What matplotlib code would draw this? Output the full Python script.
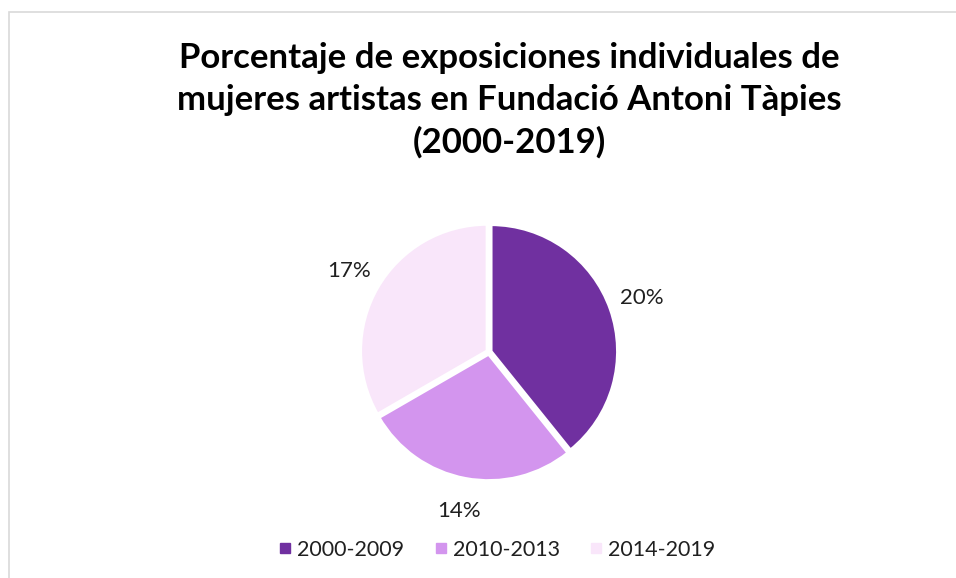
import matplotlib
matplotlib.use("Agg")
import matplotlib.pyplot as plt
from matplotlib.patches import Rectangle
from matplotlib.lines import Line2D
import numpy as np

plt.rcParams['font.family'] = ['Lato', 'DejaVu Sans']

title = "Porcentaje de exposiciones individuales de\nmujeres artistas en Fundació Antoni Tàpies\n(2000-2019)"
categories = ["2000-2009", "2010-2013", "2014-2019"]
values = [20, 14, 17]
colors = ["#7030A0", "#D395EE", "#F9E6FA"]

W, H = 956, 578
fig = plt.figure(figsize=(W/100, H/100), dpi=100)

# chart frame (left and top edges visible)
fig.patches.append(Rectangle((9/W, -0.1), 1.2, (H-12.5)/H + 0.1, transform=fig.transFigure,
                             facecolor='none', edgecolor='#D9D9D9', linewidth=1.2))

fig.text(509/W, 1 - 100/H, title, ha='center', va='center', fontsize=25, fontweight='bold',
         linespacing=1.38, color='black')

r = 127
ax = fig.add_axes([(489-r)/W, (H-352-r)/H, 2*r/W, 2*r/H])
wedges, texts = ax.pie(values, colors=colors, startangle=90, counterclock=False,
                       labels=[f"{v}%" for v in values], labeldistance=1.26,
                       explode=[0.015]*3,
                       wedgeprops=dict(edgecolor='white', linewidth=2.5),
                       textprops=dict(fontsize=16, color='#202020'))
for t in texts:
    t.set_ha('center')
    t.set_va('center')
ax.set_xlim(-1, 1)
ax.set_ylim(-1, 1)
ax.set_aspect('equal')
ax.axis('off')

handles = [Line2D([], [], marker='s', linestyle='none', markersize=7, markerfacecolor=c,
                  markeredgecolor=c) for c in colors]
fig.legend(handles, categories, loc='center', bbox_to_anchor=(495/W, 1 - 550/H), ncol=3,
           frameon=False, fontsize=15.5, handletextpad=0.05, columnspacing=1.2, handlelength=1.0,
           labelcolor='#202020')

fig.savefig("out.png", dpi=100)
